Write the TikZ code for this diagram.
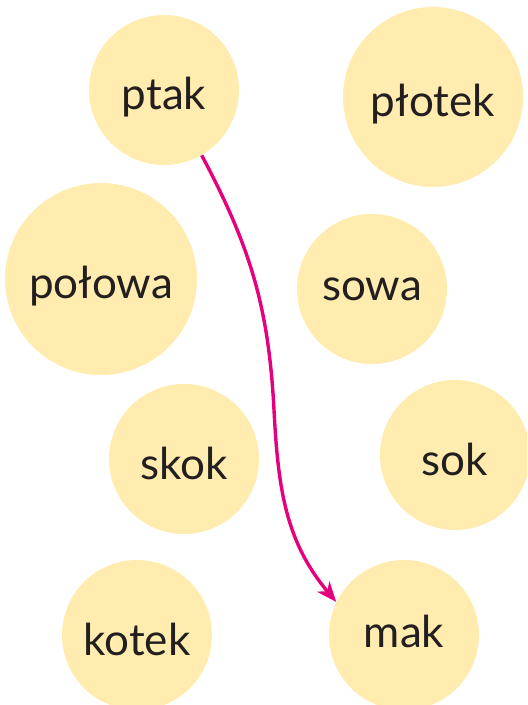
\documentclass[tikz,border=0pt]{standalone}
\usepackage{fontspec}
\setmainfont{Lato}
\usetikzlibrary{arrows.meta}
\definecolor{wordfill}{HTML}{FFECAE}
\definecolor{linkpink}{HTML}{E6007E}
\definecolor{wordtext}{HTML}{231F20}
\begin{document}
\begin{tikzpicture}[x=0.5pt, y=0.5pt,
  word/.style={circle, fill=wordfill, inner sep=0pt, minimum size=75pt,
    text=wordtext, font=\fontsize{22}{26}\selectfont,
    text height=20pt, text depth=0pt},
  link/.style={linkpink, line width=1.7pt,
    -{Stealth[length=10pt, width=8pt, inset=3pt]}}]
\useasboundingbox (0,0) rectangle (527,-705);
\clip (0,0) rectangle (527,-705);
\node[word] (ptak) at (164,-90){ptak};
\node[word, minimum size=90pt] (plotek) at (433,-97){płotek};
\node[word, minimum size=96pt] (polowa) at (101,-279){połowa};
\node[word, text height=11pt] (sowa) at (372,-289){sowa};
\node[word] (skok) at (184,-459){skok};
\node[word] (sok) at (455,-455){sok};
\node[word] (kotek) at (137,-635){kotek};
\node[word, text height=12pt] (mak) at (404,-635){mak};
\coordinate (bend) at (274,-410);
\draw[link] (ptak.-60) to[out=-62, in=93] (bend) to[out=-87, in=130] (mak.154);
\end{tikzpicture}
\end{document}
